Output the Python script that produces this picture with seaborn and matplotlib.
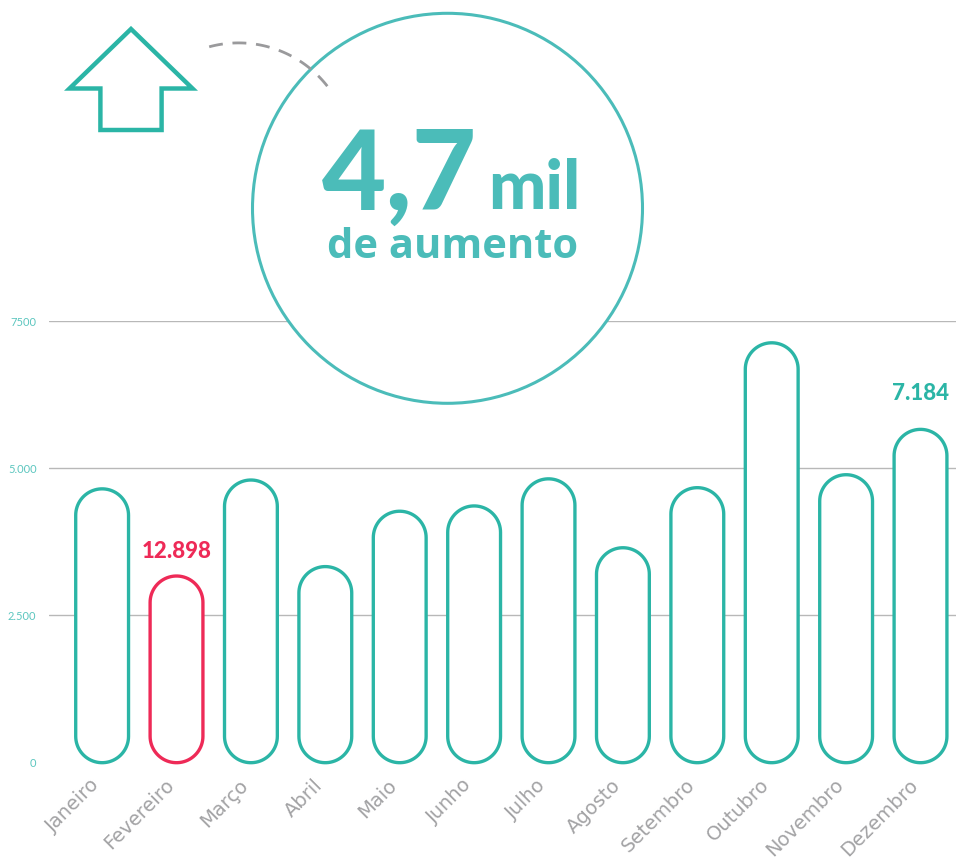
"""
Monthly totals drawn as outlined capsule bars, with a circular callout.
"""
import numpy as np
import pandas as pd
import matplotlib
matplotlib.use("Agg")
import matplotlib.pyplot as plt
import matplotlib.transforms as mtransforms
import seaborn as sns
from matplotlib.patches import Circle, Polygon

# Data
months = ["Janeiro", "Fevereiro", "Março", "Abril", "Maio", "Junho",
          "Julho", "Agosto", "Setembro", "Outubro", "Novembro", "Dezembro"]
values = [4650, 3170, 4800, 3330, 4270, 4360, 4820, 3650, 4670, 7130, 4890, 5660]
y_ticks = [0, 2500, 5000, 7500]
y_tick_labels = ["0", "2.500", "5.000", "7500"]
callout_months = ["Fevereiro", "Dezembro"]
callout_texts = ["12.898", "7.184"]
headline_big = "4,7"
headline_unit = "mil"
headline_sub = "de aumento"

TEAL = "#2bb5a6"
TEAL_LIGHT = "#4bbcb9"
RED = "#ee2a57"
GREY = "#a3a3a5"
GRID = "#b8b8b8"

W, H = 956, 865

sns.set_theme(style="white")
plt.rcParams["font.family"] = ["Lato", "DejaVu Sans"]

fig = plt.figure(figsize=(W / 100, H / 100), dpi=100)
ax = fig.add_axes([49 / W, (H - 762.7) / H, (W - 49) / W, 441.7 / H])

df = pd.DataFrame({"mes": months, "valor": values})
palette = {m: (RED if m == "Fevereiro" else TEAL) for m in months}
sns.barplot(data=df, x="mes", y="valor", hue="mes", palette=palette,
            saturation=1, legend=False, width=0.71, ax=ax)

ax.set_xlim(-0.714, 11.477)
ax.set_ylim(0, 7500)

# turn each bar into a capsule outline (round ends in screen space)
px_x = ax.bbox.width / (ax.get_xlim()[1] - ax.get_xlim()[0])
px_y = ax.bbox.height / (ax.get_ylim()[1] - ax.get_ylim()[0])
aspect = px_x / px_y
t = np.linspace(0, np.pi, 40)
for bar in list(ax.patches):
    x, y = bar.get_x(), bar.get_y()
    w, h = bar.get_width(), bar.get_height()
    col = bar.get_facecolor()
    bar.remove()
    r = w / 2
    ry = r * aspect
    cx = x + r
    top = np.column_stack([cx + r * np.cos(t), y + h - ry + ry * np.sin(t)])
    bot = np.column_stack([cx - r * np.cos(t), y + ry - ry * np.sin(t)])
    ax.add_patch(Polygon(np.vstack([top, bot]), closed=True, facecolor="white",
                         edgecolor=col, linewidth=2.4, clip_on=False, zorder=3))

# value callouts
for m, txt in zip(callout_months, callout_texts):
    i = months.index(m)
    off = 18 if m == "Fevereiro" else 26
    ax.annotate(txt, (i, values[i]), xytext=(0, off), textcoords="offset points",
                ha="center", va="center", fontsize=16, fontweight="black",
                color=palette[m], zorder=4)

ax.set_yticks(y_ticks, y_tick_labels)
ax.tick_params(axis="y", length=0, pad=9, labelsize=8, labelcolor="#5cc6bf")
ax.tick_params(axis="x", length=0, pad=14, labelsize=14, labelcolor=GREY)
nudge = mtransforms.ScaledTranslation(-4 / 72, 0, fig.dpi_scale_trans)
for lab in ax.get_xticklabels():
    lab.set_rotation(45)
    lab.set_ha("right")
    lab.set_va("center")
    lab.set_rotation_mode("anchor")
    lab.set_family(["DejaVu Sans"])
    lab.set_transform(lab.get_transform() + nudge)
ax.yaxis.grid(True, color=GRID, linewidth=1.0)
ax.get_ygridlines()[0].set_visible(False)
ax.set_axisbelow(True)
ax.set_xlabel("")
ax.set_ylabel("")
sns.despine(ax=ax, left=True, bottom=True)

# overlay in pixel coordinates for the decorations
ov = fig.add_axes([0, 0, 1, 1], zorder=5)
ov.set_xlim(0, W)
ov.set_ylim(H, 0)
ov.axis("off")
ov.patch.set_alpha(0)

ov.add_patch(Circle((447.5, 208.3), 195, facecolor="white",
                    edgecolor=TEAL_LIGHT, linewidth=2.2))

arrow = [(131, 29), (192.5, 88.5), (161.6, 88.5), (161.6, 130),
         (100.4, 130), (100.4, 88.5), (69.5, 88.5)]
ov.add_patch(Polygon(arrow, closed=True, facecolor="none",
                     edgecolor=TEAL, linewidth=3.2, joinstyle="miter"))

theta = np.radians(np.linspace(38, 107, 60))
ov.plot(238.6 + 112.6 * np.cos(theta), 155.5 - 112.6 * np.sin(theta),
        color="#9a9a9c", linewidth=2, dashes=(5, 3.5))

ov.text(322, 209.3, headline_big, ha="left", va="baseline", fontsize=80,
        fontweight="black", color=TEAL_LIGHT)
ov.text(488, 209.3, headline_unit, ha="left", va="baseline", fontsize=49,
        fontweight="black", color=TEAL_LIGHT)
ov.text(453, 258.3, headline_sub, ha="center", va="baseline", fontsize=30,
        fontweight="bold", family=["Open Sans"], color=TEAL_LIGHT)

fig.savefig("out.png", dpi=100)
